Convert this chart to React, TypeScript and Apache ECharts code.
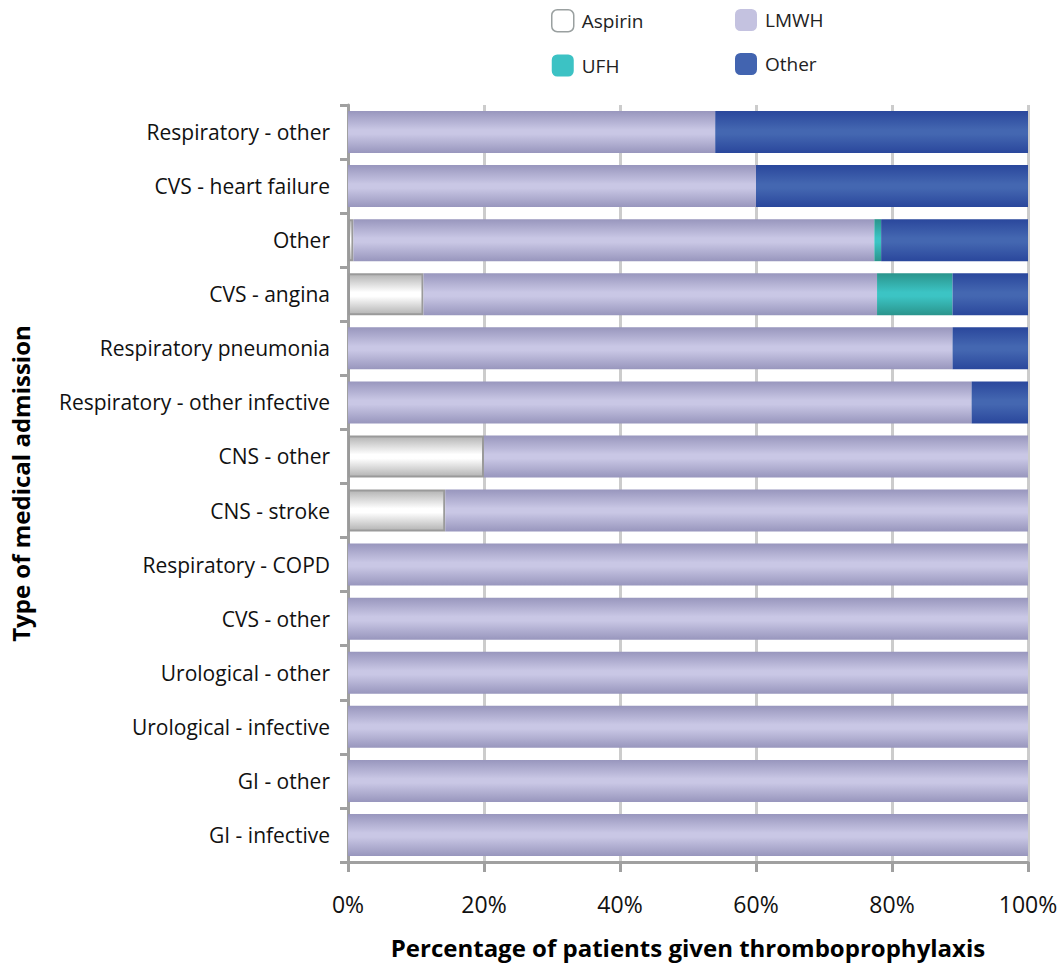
import React, { useEffect, useRef } from "react";
import * as echarts from "echarts";

const categories = [
  "Respiratory - other",
  "CVS - heart failure",
  "Other",
  "CVS - angina",
  "Respiratory pneumonia",
  "Respiratory - other infective",
  "CNS - other",
  "CNS - stroke",
  "Respiratory - COPD",
  "CVS - other",
  "Urological - other",
  "Urological - infective",
  "GI - other",
  "GI - infective",
];

const aspirin = [0, 0, 0.8, 11.1, 0, 0, 20, 14.3, 0, 0, 0, 0, 0, 0];
const lmwh = [54, 60, 76.6, 66.7, 88.9, 91.7, 80, 85.7, 100, 100, 100, 100, 100, 100];
const ufh = [0, 0, 1.0, 11.1, 0, 0, 0, 0, 0, 0, 0, 0, 0, 0];
const other = [46, 40, 21.6, 11.1, 11.1, 8.3, 0, 0, 0, 0, 0, 0, 0, 0];

const xTicks = [0, 20, 40, 60, 80, 100];

const FONT = "'Open Sans', 'Noto Sans', sans-serif";

const grad = (edge: string, mid: string) =>
  new echarts.graphic.LinearGradient(0, 0, 0, 1, [
    { offset: 0, color: edge },
    { offset: 0.45, color: mid },
    { offset: 0.55, color: mid },
    { offset: 1, color: edge },
  ]);

export default function App() {
  const ref = useRef<HTMLDivElement>(null);

  useEffect(() => {
    document.body.style.margin = "0";
    if (!ref.current) return;
    const chart = echarts.init(ref.current, undefined, { renderer: "svg" });

    const mk = (name: string, data: number[], color: any, extra: any = {}) => ({
      name,
      type: "bar",
      stack: "total",
      barWidth: 42,
      data: data.map((v) => (v === 0 ? null : v)),
      itemStyle: { color, ...extra },
      emphasis: { disabled: true },
    });

    const legendText = { fontFamily: FONT, fontSize: 19, color: "#222", padding: [0, 0, 0, 3] };

    chart.setOption({
      animation: false,
      backgroundColor: "#ffffff",
      legend: [
        {
          orient: "vertical",
          left: 546,
          top: 4,
          itemWidth: 22,
          itemHeight: 22,
          itemGap: 22,
          textStyle: legendText,
          data: [
            { name: "Aspirin", icon: "roundRect", itemStyle: { color: "#ffffff", borderColor: "#9aa0a0", borderWidth: 1.5 } },
            { name: "UFH", icon: "roundRect", itemStyle: { color: "#3cc2c4" } },
          ],
        },
        {
          orient: "vertical",
          left: 730,
          top: 4,
          itemWidth: 22,
          itemHeight: 22,
          itemGap: 22,
          textStyle: legendText,
          data: [
            { name: "LMWH", icon: "roundRect", itemStyle: { color: "#c4c2e0" } },
            { name: "Other", icon: "roundRect", itemStyle: { color: "#4264b0" } },
          ],
        },
      ],
      grid: { left: 346, right: 34, top: 105, bottom: 105 },
      xAxis: {
        type: "value",
        min: 0,
        max: 100,
        interval: 20,
        name: "Percentage of patients given thromboprophylaxis",
        nameLocation: "middle",
        nameGap: 73,
        nameTextStyle: { fontFamily: FONT, fontSize: 24, fontWeight: "bold", color: "#000" },
        axisLine: { show: true, lineStyle: { color: "#a0a0a0", width: 3 } },
        axisTick: { show: true, length: 10, lineStyle: { color: "#a0a0a0", width: 3 } },
        axisLabel: {
          fontFamily: FONT,
          fontSize: 23,
          color: "#111",
          margin: 30,
          formatter: (v: number) => (xTicks.includes(v) ? `${v}%` : ""),
        },
        splitLine: { show: true, lineStyle: { color: "#cccccc", width: 3 } },
      },
      yAxis: {
        type: "category",
        inverse: true,
        data: categories,
        name: "Type of medical admission",
        nameLocation: "middle",
        nameGap: 316,
        nameRotate: 90,
        nameTextStyle: { fontFamily: FONT, fontSize: 24, fontWeight: "bold", color: "#000" },
        axisLine: { show: true, lineStyle: { color: "#a0a0a0", width: 3 } },
        axisTick: { show: true, length: 8, lineStyle: { color: "#a0a0a0", width: 3 } },
        axisLabel: { fontFamily: FONT, fontSize: 21, color: "#111", margin: 18 },
      },
      series: [
        mk("Aspirin", aspirin, grad("#b4b4b4", "#ffffff"), { borderColor: "#9a9a9a", borderWidth: 2 }),
        mk("LMWH", lmwh, grad("#9896bd", "#c9c7e5")),
        mk("UFH", ufh, grad("#2a948c", "#3cc4c4")),
        mk("Other", other, grad("#2a479c", "#4467b1")),
      ],
    });

    return () => chart.dispose();
  }, []);

  return <div ref={ref} style={{ width: 1062, height: 967 }} />;
}
